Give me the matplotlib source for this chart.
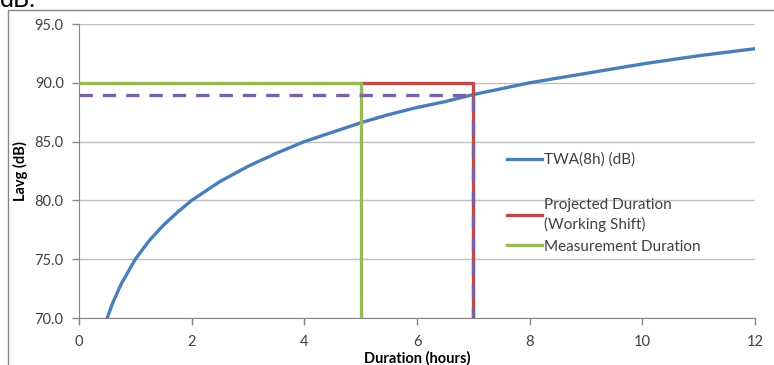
import matplotlib
matplotlib.use('Agg')
import matplotlib.pyplot as plt
from matplotlib.patches import Rectangle

plt.rcParams['font.family'] = ['Lato', 'DejaVu Sans']

# TWA(8h) curve, values
hours = [0.5, 0.6, 0.75, 1, 1.25, 1.5, 1.75, 2, 2.5, 3, 3.5, 4, 4.5, 5, 5.5,
         6, 6.5, 7, 7.5, 8, 9, 10, 11, 12]
twa = [70.0, 71.3, 72.9, 75.0, 76.6, 77.9, 79.0, 80.0, 81.6, 82.9, 84.0, 85.0,
       85.8, 86.6, 87.3, 87.9, 88.4, 89.0, 89.5, 90.0, 90.8, 91.6, 92.3, 92.9]

# step lines
meas_x = [0, 5, 5]
meas_y = [90, 90, 70]
proj_x = [5, 7, 7]
proj_y = [90, 90, 70]
lim_x = [0, 7, 7]
lim_y = [89, 89, 70]

fig = plt.figure(figsize=(7.74, 3.65), dpi=100)
ax = fig.add_axes([79 / 774, 1 - 318 / 365, 676 / 774, 294 / 365])

l_twa, = ax.plot(hours, twa, color='#4A7EBB', lw=2.4, zorder=3)
l_proj, = ax.plot(proj_x, proj_y, color='#BE4B48', lw=2.4, zorder=3)
l_meas, = ax.plot(meas_x, meas_y, color='#98B954', lw=2.4, zorder=4)
ax.plot(lim_x, lim_y, color='#7D60A0', lw=2.4, ls=(0, (4, 3)), zorder=5)

ax.set_xlim(0, 12)
ax.set_ylim(70, 95)
ax.set_xticks([0, 2, 4, 6, 8, 10, 12])
ax.set_yticks([70, 75, 80, 85, 90, 95])
ax.set_yticklabels(['%.1f' % v for v in [70, 75, 80, 85, 90, 95]])
ax.grid(axis='y', color='#BFBFBF', lw=1)
ax.set_axisbelow(True)
for s in ['top', 'right']:
    ax.spines[s].set_visible(False)
for s in ['left', 'bottom']:
    ax.spines[s].set_color('#868686')
ax.tick_params(colors='#868686', labelcolor='#404040', labelsize=10.5, length=5, width=1)
ax.tick_params(axis='y', pad=6)
ax.tick_params(axis='x', pad=7)

ax.set_xlabel('Duration (hours)', fontsize=10.5, fontweight='bold', labelpad=2)
ax.set_ylabel('Lavg (dB)', fontsize=10.5, fontweight='bold', labelpad=5)

leg_kw = dict(frameon=False, fontsize=11, handlelength=2.3, handletextpad=0.15,
              borderpad=0, borderaxespad=0, labelcolor='#404040')
leg1 = ax.legend([l_twa], ['TWA(8h) (dB)'], loc='center left',
                 bbox_to_anchor=(0.633, (318 - 160) / 294), **leg_kw)
ax.add_artist(leg1)
leg2 = ax.legend([l_proj, l_meas], ['Projected Duration\n(Working Shift)', 'Measurement Duration'],
                 loc='upper left', bbox_to_anchor=(0.633, (318 - 198) / 294),
                 labelspacing=0.5, **leg_kw)
for t in leg2.get_texts():
    t.set_linespacing(1.4)

# outer chart frame
fig.patches.append(Rectangle((8 / 774, -0.1), 1.2, 1.1 - 10 / 365, transform=fig.transFigure,
                             fill=False, edgecolor='#868686', lw=1))
fig.text(0.0, 1 - 7 / 365, 'dB.', fontsize=18, va='baseline', ha='left')

fig.savefig('out.png', dpi=100)
